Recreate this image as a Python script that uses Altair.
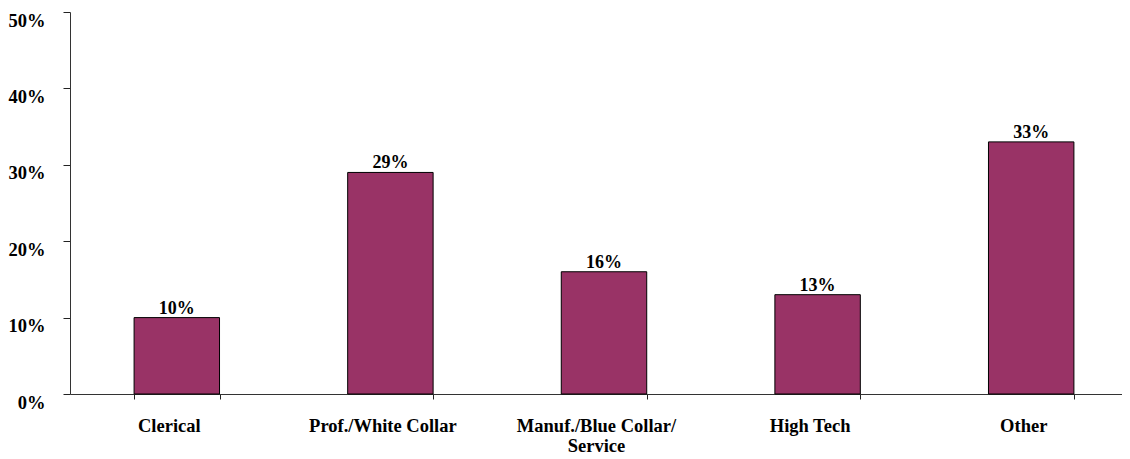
import altair as alt
import pandas as pd

categories = ["Clerical", "Prof./White Collar", "Manuf./Blue Collar/Service", "High Tech", "Other"]
values = [10, 29, 16, 13, 33]
labels = ["10%", "29%", "16%", "13%", "33%"]

df = pd.DataFrame({"cat": categories, "val": values, "lab": labels})

FONT = "Liberation Serif"

x = alt.X(
    "cat:N",
    sort=categories,
    title=None,
    scale=alt.Scale(paddingInner=0.6, paddingOuter=0.3, range=[0, 1068]),
    axis=alt.Axis(
        labelAngle=0,
        labelFont=FONT,
        labelFontSize=18.5,
        labelFontWeight="bold",
        labelColor="black",
        labelPadding=17,
        labelLineHeight=20,
        labelBaseline="top",
        labelOffset=-8,
        labelExpr="datum.label == 'Manuf./Blue Collar/Service' ? ['Manuf./Blue Collar/', 'Service'] : datum.label",
        tickBand="extent",
        tickSize=5,
        tickColor="#222",
        domainColor="#333",
        labelLimit=400,
    ),
)

y = alt.Y(
    "val:Q",
    title=None,
    scale=alt.Scale(domain=[0, 50], nice=False),
    axis=alt.Axis(
        values=[0, 10, 20, 30, 40, 50],
        labelExpr="datum.value + '%'",
        labelFont=FONT,
        labelFontSize=18.5,
        labelFontWeight="bold",
        labelColor="black",
        labelPadding=18,
        labelBaseline="middle",
        labelOffset=8,
        tickSize=7,
        tickColor="#222",
        domainColor="#333",
        grid=False,
    ),
)

bars = alt.Chart(df).mark_bar(
    color="#993366", stroke="black", strokeWidth=1
).encode(x=x, y=y)

text = alt.Chart(df).mark_text(
    baseline="alphabetic", dy=-4, font=FONT, fontSize=18, fontWeight="bold", color="black"
).encode(x=alt.X("cat:N", sort=categories), y="val:Q", text="lab:N")

chart = (
    alt.layer(bars, text)
    .properties(
        width=1052,
        height=382,
        autosize=alt.AutoSizeParams(type="none"),
        padding={"left": 62, "top": 4, "right": 0, "bottom": 60},
        background="white",
    )
    .configure_view(strokeWidth=0, stroke="transparent")
)

chart.save("out.html", embed_options={"renderer": "svg", "actions": False})
